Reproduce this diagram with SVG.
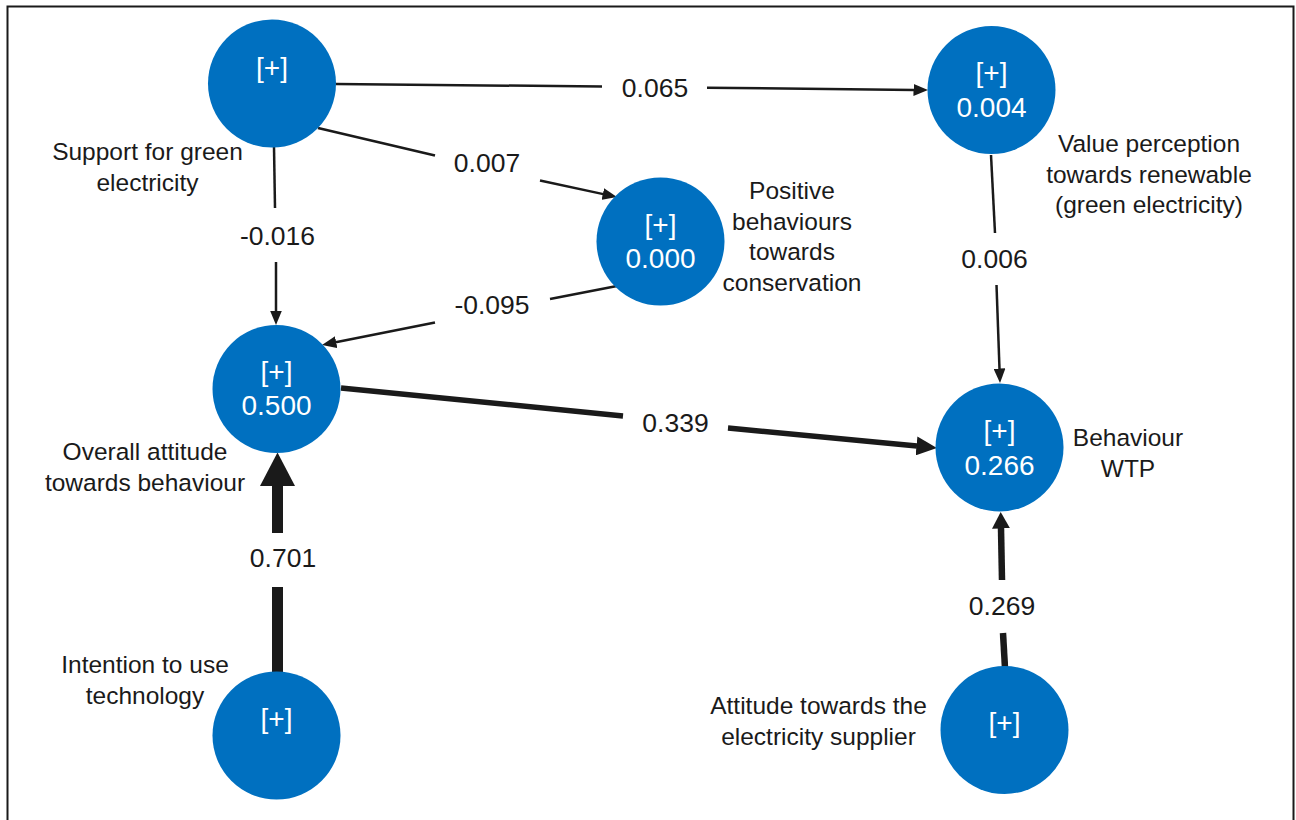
<svg xmlns="http://www.w3.org/2000/svg" width="1296" height="820" viewBox="0 0 1296 820">
  <style>
    .frame { fill: #ffffff; stroke: #1a1a1a; stroke-width: 2; }
    .node circle { fill: #0070c0; }
    .node .inner { fill: #ffffff; font-family: "Liberation Sans", Arial, sans-serif; font-size: 28px; text-anchor: middle; }
    .node .caption { fill: #1a1a1a; font-family: "Liberation Sans", Arial, sans-serif; font-size: 24.5px; text-anchor: middle; }
    .edges line { stroke: #1a1a1a; fill: none; stroke-linecap: butt; }
    .edges .w1 { stroke-width: 2.5; }
    .edges .w2 { stroke-width: 5.5; }
    .edges .w3 { stroke-width: 6.5; }
    .edges .w4 { stroke-width: 11; }
    .edges text { fill: #1a1a1a; font-family: "Liberation Sans", Arial, sans-serif; font-size: 26.5px; text-anchor: middle; }
    marker path { fill: #1a1a1a; }
  </style>
  <defs>
    <marker id="head-s" markerUnits="userSpaceOnUse" markerWidth="15" markerHeight="12" refX="0.5" refY="6" orient="auto">
      <path d="M0,0 L14.5,6 L0,12 Z"/>
    </marker>
    <marker id="head-m" markerUnits="userSpaceOnUse" markerWidth="21" markerHeight="19" refX="0.5" refY="9.5" orient="auto">
      <path d="M0,0 L20.5,9.5 L0,19 Z"/>
    </marker>
    <marker id="head-n" markerUnits="userSpaceOnUse" markerWidth="17" markerHeight="18" refX="0.5" refY="9" orient="auto">
      <path d="M0,0 L16.5,9 L0,18 Z"/>
    </marker>
    <marker id="head-l" markerUnits="userSpaceOnUse" markerWidth="34" markerHeight="35" refX="0.5" refY="17.5" orient="auto">
      <path d="M0,0 L33.5,17.5 L0,35 Z"/>
    </marker>
  </defs>

  <rect class="frame" x="7.5" y="6.5" width="1286" height="840"/>

  <!-- path coefficients -->
  <g id="connectors" class="edges">
    <!-- support -> value perception -->
    <line class="w1" x1="336" y1="84" x2="602" y2="86.5"/>
    <line class="w1" x1="707" y1="87.7" x2="914" y2="89.9" marker-end="url(#head-s)"/>
    <text x="655" y="97">0.065</text>

    <!-- support -> positive behaviours -->
    <line class="w1" x1="318" y1="128" x2="435" y2="155.5"/>
    <line class="w1" x1="540" y1="180.5" x2="603.3" y2="194.1" marker-end="url(#head-s)"/>
    <text x="487" y="172">0.007</text>

    <!-- support -> overall attitude -->
    <line class="w1" x1="274" y1="147" x2="275" y2="208"/>
    <line class="w1" x1="276" y1="262" x2="276" y2="311" marker-end="url(#head-s)"/>
    <text x="277.5" y="245">-0.016</text>

    <!-- positive behaviours -> overall attitude -->
    <line class="w1" x1="617" y1="286" x2="550" y2="299"/>
    <line class="w1" x1="435" y1="322.5" x2="335.7" y2="342.3" marker-end="url(#head-s)"/>
    <text x="492" y="314">-0.095</text>

    <!-- value perception -> behaviour WTP -->
    <line class="w1" x1="991" y1="155" x2="995" y2="233"/>
    <line class="w1" x1="996.5" y1="285" x2="999.5" y2="369" marker-end="url(#head-s)"/>
    <text x="994.5" y="268">0.006</text>

    <!-- overall attitude -> behaviour WTP -->
    <line class="w2" x1="341" y1="388" x2="623" y2="416"/>
    <line class="w2" x1="728" y1="428" x2="917" y2="446" marker-end="url(#head-m)"/>
    <text x="675.5" y="432">0.339</text>

    <!-- intention -> overall attitude -->
    <line class="w4" x1="277.5" y1="672" x2="277.5" y2="587"/>
    <line class="w4" x1="277.5" y1="533" x2="277.5" y2="485.5" marker-end="url(#head-l)"/>
    <text x="283" y="567">0.701</text>

    <!-- supplier attitude -> behaviour WTP -->
    <line class="w3" x1="1005" y1="668" x2="1003" y2="633"/>
    <line class="w3" x1="1002" y1="580" x2="1001" y2="528" marker-end="url(#head-n)"/>
    <text x="1002" y="615">0.269</text>
  </g>

  <g id="support-green" class="node">
    <circle cx="272" cy="83.5" r="64"/>
    <text class="inner" x="272" y="76.5">[+]</text>
    <text class="caption" x="147.5" y="160">Support for green</text>
    <text class="caption" x="147.5" y="191">electricity</text>
  </g>

  <g id="value-perception" class="node">
    <circle cx="991.5" cy="90" r="64"/>
    <text class="inner" x="991.5" y="81.5">[+]</text>
    <text class="inner" x="991.5" y="117">0.004</text>
    <text class="caption" x="1149" y="152">Value perception</text>
    <text class="caption" x="1149" y="183">towards renewable</text>
    <text class="caption" x="1149" y="213">(green electricity)</text>
  </g>

  <g id="positive-behaviours" class="node">
    <circle cx="660.5" cy="241.5" r="64"/>
    <text class="inner" x="660.5" y="233.5">[+]</text>
    <text class="inner" x="660.5" y="268">0.000</text>
    <text class="caption" x="792" y="199">Positive</text>
    <text class="caption" x="792" y="230">behaviours</text>
    <text class="caption" x="792" y="260">towards</text>
    <text class="caption" x="792" y="291">conservation</text>
  </g>

  <g id="overall-attitude" class="node">
    <circle cx="276.5" cy="389" r="64"/>
    <text class="inner" x="276.5" y="380.5">[+]</text>
    <text class="inner" x="276.5" y="415">0.500</text>
    <text class="caption" x="145" y="460">Overall attitude</text>
    <text class="caption" x="145" y="491">towards behaviour</text>
  </g>

  <g id="behaviour-wtp" class="node">
    <circle cx="999.5" cy="447.5" r="64"/>
    <text class="inner" x="999.5" y="439.5">[+]</text>
    <text class="inner" x="999.5" y="475">0.266</text>
    <text class="caption" x="1128" y="446">Behaviour</text>
    <text class="caption" x="1128" y="477">WTP</text>
  </g>

  <g id="intention-technology" class="node">
    <circle cx="276.5" cy="735.5" r="64"/>
    <text class="inner" x="276.5" y="728">[+]</text>
    <text class="caption" x="145" y="673">Intention to use</text>
    <text class="caption" x="145" y="704">technology</text>
  </g>

  <g id="supplier-attitude" class="node">
    <circle cx="1004.5" cy="730" r="64"/>
    <text class="inner" x="1004.5" y="732">[+]</text>
    <text class="caption" x="818.5" y="714">Attitude towards the</text>
    <text class="caption" x="818.5" y="745">electricity supplier</text>
  </g>
</svg>
